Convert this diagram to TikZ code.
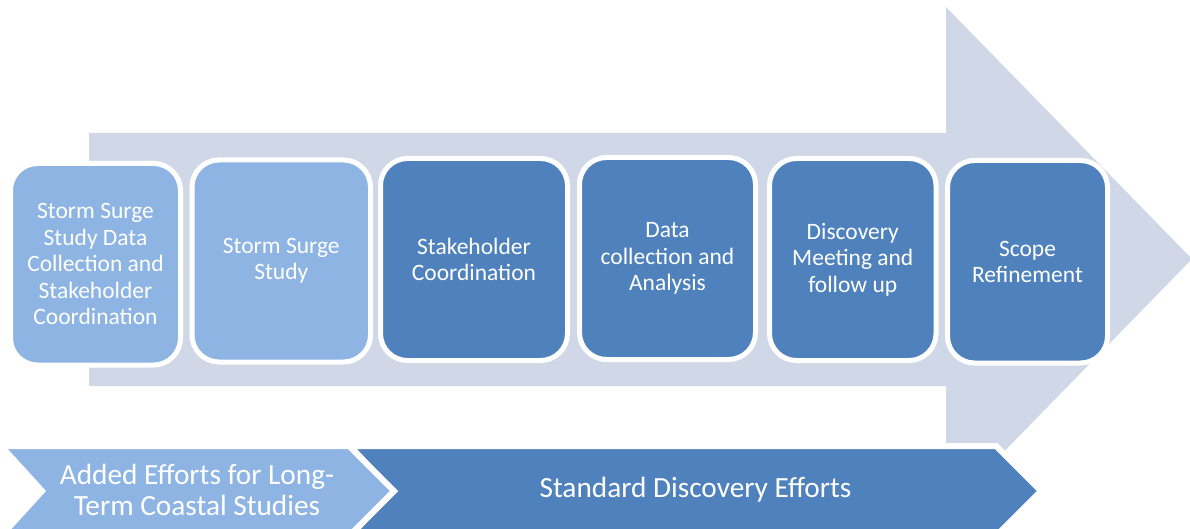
\documentclass[tikz,border=0pt]{standalone}
\usepackage{fontspec}
\setmainfont{Carlito}
\definecolor{arrowgrey}{HTML}{D0D8E8}
\definecolor{lightblue}{HTML}{8EB4E3}
\definecolor{darkblue}{HTML}{4F81BD}
\tikzset{
  stepbox/.style={draw=white, line width=5pt, rounded corners=27pt, inner sep=0pt,
    text=white, align=center, font=\fontsize{23.5}{26.5}\selectfont},
  lightbox/.style={stepbox, fill=lightblue},
  darkbox/.style={stepbox, fill=darkblue},
  chevron/.style={draw=white, line width=6pt, line join=miter},
  bandtext/.style={text=white, align=center, inner sep=0pt, font=\fontsize{29.3}{31}\selectfont}
}
\begin{document}
\begin{tikzpicture}[x=1pt,y=-1pt]
\useasboundingbox (0,0) rectangle (1190,529);
\begin{scope}
\clip (0,0) rectangle (1190,529);
% big background arrow
\fill[arrowgrey] (89,133) -- (946,133) -- (946,7) -- (1192,259) -- (946,511) -- (946,386) -- (89,386) -- cycle;

% step boxes
\node[lightbox, minimum width=170pt, minimum height=201.5pt] (b1) at (95.5,264.25)
  {Storm Surge\\Study Data\\Collection and\\Stakeholder\\Coordination};
\node[lightbox, minimum width=178.5pt, minimum height=202pt] (b2) at (281.25,261)
  {Storm Surge\\Study};
\node[darkbox, minimum width=187pt, minimum height=202pt] (b3) at (474,259.5)
  {Stakeholder\\Coordination};
\node[darkbox, minimum width=176pt, minimum height=202pt] (b4) at (667.5,258.5)
  {Data\\collection and\\Analysis};
\node[darkbox, minimum width=166.5pt, minimum height=202pt] (b5) at (852.75,259.5)
  {Discovery\\Meeting and\\follow up};
\node[darkbox, minimum width=160pt, minimum height=202.5pt] (b6) at (1027.5,261.75)
  {Scope\\Refinement};

% bottom bands
\path[chevron, fill=darkblue] (350,446) -- (996,446) -- (1041,491) -- (996,536) -- (350,536) -- (392,491) -- cycle;
\path[chevron, fill=lightblue] (1,446) -- (349,446) -- (394,491) -- (349,536) -- (1,536) -- (42,491) -- cycle;
\end{scope}
\node[bandtext] (added) at (197,490) {Added Efforts for Long-\\Term Coastal Studies};
\node[bandtext] (standard) at (695.5,490) {Standard Discovery Efforts};
\end{tikzpicture}
\end{document}
